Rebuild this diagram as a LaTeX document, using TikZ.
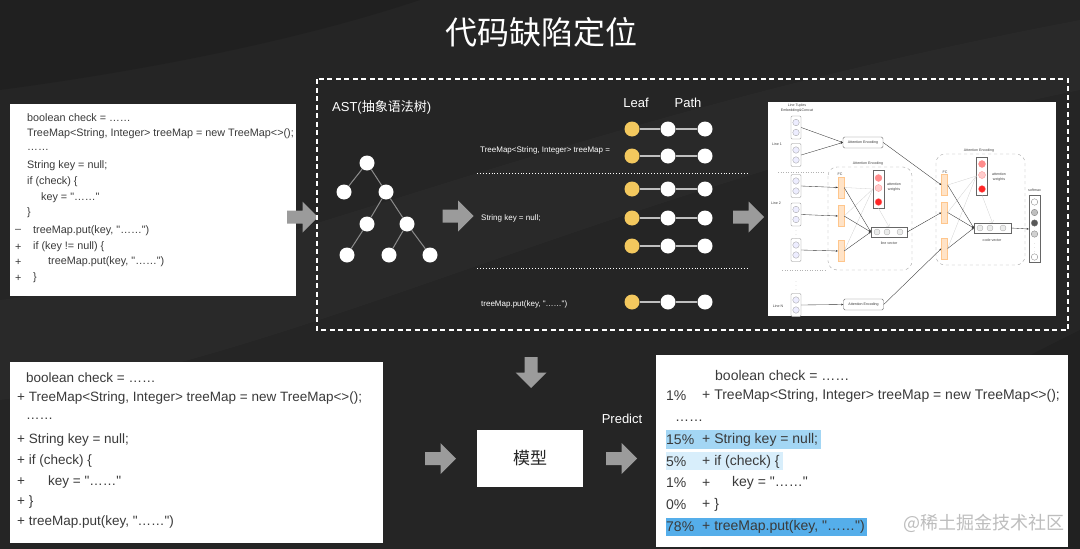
\documentclass[tikz,border=0pt]{standalone}
\usepackage{fontspec}
\setmainfont{Liberation Sans}
\newfontfamily\cjk{Noto Sans CJK SC}
\usetikzlibrary{calc,arrows.meta}
\definecolor{bg}{HTML}{252525}
\definecolor{arrowgray}{HTML}{9B9B9B}
\definecolor{codegray}{HTML}{3A3A3A}
\definecolor{leafyellow}{HTML}{F3C85E}
\definecolor{hlA}{HTML}{A3D6F4}
\definecolor{hlB}{HTML}{D8EEFB}
\definecolor{hlC}{HTML}{55AEEA}
\newcommand{\dq}{\textquotedbl}
\begin{document}
\begin{tikzpicture}[x=1pt,y=-1pt,
  whitebox/.style={fill=white, inner sep=0, anchor=north west},
  codeS/.style={anchor=west, text=codegray, inner sep=0, font=\fontsize{10.8}{12}\selectfont},
  codeL/.style={anchor=west, text=codegray, inner sep=0, font=\fontsize{13.5}{15}\selectfont},
  codeR/.style={anchor=west, text=codegray, inner sep=0, font=\fontsize{14}{16}\selectfont},
  smalltxt/.style={anchor=west, text=white, inner sep=0, font=\fontsize{8}{9}\selectfont},
  hdr/.style={text=white, inner sep=0, font=\fontsize{13}{15}\selectfont},
  tnode/.style={circle, fill=white, minimum size=15pt, inner sep=0},
  tedge/.style={draw=black!45, line width=1pt},
  pleaf/.style={circle, fill=leafyellow, minimum size=15pt, inner sep=0},
  ppath/.style={circle, fill=white, minimum size=15pt, inner sep=0},
  pedge/.style={draw=black!25, line width=1.3pt},
  sep/.style={white, dotted, line width=0.9pt},
  nnlabel/.style={font=\fontsize{3.6}{4.2}\selectfont, text=black!75, inner sep=0, align=center},
  embbox/.style={draw=black!45, line width=0.4pt, rounded corners=1.2pt, fill=white, minimum width=10pt, minimum height=23pt, inner sep=0},
  embc/.style={circle, draw=black!40, line width=0.3pt, fill=blue!7, minimum size=6.5pt, inner sep=0},
  aebox/.style={draw=black!55, line width=0.4pt, rounded corners=1.5pt, fill=white, minimum width=40pt, minimum height=11pt, inner sep=0, font=\fontsize{3.6}{4}\selectfont, text=black!80},
  region/.style={draw=black!35, dashed, line width=0.4pt, rounded corners=9pt},
  fcbar/.style={fill=orange!22, draw=orange!45, line width=0.3pt, minimum width=6pt, minimum height=21pt, inner sep=0},
  vecbox/.style={draw=black!60, line width=0.4pt, fill=white, minimum width=36pt, minimum height=10pt, inner sep=0},
  vecc/.style={circle, draw=black!35, line width=0.3pt, fill=green!6!black!8, minimum size=6pt, inner sep=0},
  wcol/.style={draw=black!60, line width=0.4pt, fill=white, minimum width=11pt, minimum height=38pt, inner sep=0},
  wc/.style={circle, minimum size=7pt, inner sep=0, draw=red!45, line width=0.3pt},
  smc/.style={circle, minimum size=6.5pt, inner sep=0, draw=black!55, line width=0.3pt},
  nnarr/.style={-{Stealth[length=2.2pt,width=1.8pt]}, line width=0.35pt, black!80},
  faint/.style={black!18, line width=0.3pt},
  blockarrow/.pic={\fill[arrowgray] (-15.5,-6.5) -- (0,-6.5) -- (0,-15.5) -- (15.5,0) -- (0,15.5) -- (0,6.5) -- (-15.5,6.5) -- cycle;}
]
\useasboundingbox (0,0) rectangle (1080,549);
\fill[bg] (0,0) rectangle (1080,549);
% subtle background streaks
\fill[white,opacity=0.02] (0,300) .. controls (250,270) and (550,120) .. (1080,20) -- (1080,90) .. controls (600,190) and (300,360) .. (0,400) -- cycle;
\fill[black,opacity=0.12] (0,0) -- (420,0) .. controls (300,40) and (150,70) .. (0,90) -- cycle;
\fill[black,opacity=0.1] (1080,330) .. controls (900,420) and (800,480) .. (700,549) -- (1080,549) -- cycle;

% title
\node[text=white, inner sep=0, font=\cjk\fontsize{32}{36}\selectfont] (title) at (541,32) {代码缺陷定位};

% ---------- top-left code box ----------
\node[whitebox, minimum width=286pt, minimum height=192pt] (box1) at (10,104) {};
\node[codeS] (a1) at (27,118) {boolean check = ……};
\node[codeS] (a2) at (27,134) {TreeMap<String, Integer> treeMap = new TreeMap<>();};
\node[codeS] (a3) at (27,150) {……};
\node[codeS] (a4) at (27,166) {String key = null;};
\node[codeS] (a5) at (27,182) {if (check) \{};
\node[codeS] (a6) at (41,198) {key = \dq……\dq};
\node[codeS] (a7) at (27,213) {\}};
\node[codeS] (a8m) at (15,231) {–};
\node[codeS] (a8) at (33,231) {treeMap.put(key, \dq……\dq)};
\node[codeS] (a9m) at (15,247) {+};
\node[codeS] (a9) at (33,247) {if (key != null) \{};
\node[codeS] (a10m) at (15,262) {+};
\node[codeS] (a10) at (48,262) {treeMap.put(key, \dq……\dq)};
\node[codeS] (a11m) at (15,278) {+};
\node[codeS] (a11) at (33,278) {\}};

% arrows
\pic at (302.5,217) {blockarrow};
\pic at (458,216) {blockarrow};
\pic at (748.5,217) {blockarrow};
\pic[rotate=-90] at (531,372.5) {blockarrow};
\pic at (440.5,458.5) {blockarrow};
\pic at (621.5,458.5) {blockarrow};

% dashed frame
\draw[white, line width=1.5pt, dash pattern=on 5pt off 3.5pt] (317,79) rectangle (1068,330);

% AST
\node[hdr, anchor=west] (astlbl) at (332,107) {AST({\cjk 抽象语法树})};
\node[tnode] (r) at (367,163) {};
\node[tnode] (l1a) at (344,192) {};
\node[tnode] (l1b) at (386,192) {};
\node[tnode] (l2a) at (367,224) {};
\node[tnode] (l2b) at (407,224) {};
\node[tnode] (l3a) at (347,255) {};
\node[tnode] (l3b) at (389,255) {};
\node[tnode] (l3c) at (430,255) {};
\draw[tedge] (r) -- (l1a);
\draw[tedge] (r) -- (l1b);
\draw[tedge] (l1b) -- (l2a);
\draw[tedge] (l1b) -- (l2b);
\draw[tedge] (l2a) -- (l3a);
\draw[tedge] (l2b) -- (l3b);
\draw[tedge] (l2b) -- (l3c);

% leaf / path
\node[hdr] (leafh) at (636,103) {Leaf};
\node[hdr] (pathh) at (688,103) {Path};
\foreach \i/\y in {1/129,2/156,3/189,4/218,5/246,6/302}{
  \node[pleaf] (p\i a) at (632,\y) {};
  \node[ppath] (p\i b) at (668,\y) {};
  \node[ppath] (p\i c) at (705,\y) {};
  \draw[pedge] (p\i a) -- (p\i b);
  \draw[pedge] (p\i b) -- (p\i c);
}
\node[smalltxt] (s1) at (480,150) {TreeMap<String, Integer> treeMap =};
\node[smalltxt] (s2) at (481,218) {String key = null;};
\node[smalltxt] (s3) at (481,304) {treeMap.put(key, \dq……\dq)};
\coordinate (d1a) at (477,173); \coordinate (d1b) at (747,173);
\coordinate (d2a) at (477,268); \coordinate (d2b) at (747,268);
\draw[sep] (d1a) -- (d1b);
\draw[sep] (d2a) -- (d2b);

% ---------- neural network figure ----------
\node[whitebox, minimum width=288pt, minimum height=214pt] (nnimg) at (768,102) {};
\begin{scope}
\clip (768,102) rectangle (1056,316);
\node[nnlabel] (ltl) at (797,108) {Line Tuples\\Embedding\&Concat};
\node[nnlabel] (ln1) at (777,144) {Line 1};
\node[nnlabel] (ln2) at (776,203) {Line 2};
\node[nnlabel] (lnN) at (778,306) {Line N};
\node[nnlabel] (vd1) at (796,232) {$\vdots$};
\node[nnlabel] (vd2) at (796,283) {$\vdots$};
\foreach \n/\y in {e1/127.5,e2/155,e3/186,e4/214.5,e5/250,e6/305}{
  \node[embbox] (\n) at (796,\y) {};
  \node[embc] at ($(\n)+(0,-5)$) {};
  \node[embc] at ($(\n)+(0,5)$) {};
}
\draw[black!30, dotted, line width=0.5pt] (778,172) -- (825,172);
\draw[black!30, dotted, line width=0.5pt] (782,270) -- (825,270);
\node[aebox] (ae1) at (863,142.5) {Attention Encoding};
\node[aebox] (ae2) at (863.5,304.5) {Attention Encoding};
% region 1
\draw[region] (828,167) rectangle (912,270);
\node[nnlabel] (rl1) at (868,164) {Attention Encoding};
\node[nnlabel] (fcl1) at (840,174) {FC};
\node[fcbar] (fc1) at (841,187.5) {};
\node[fcbar] (fc2) at (841,216) {};
\node[fcbar] (fc3) at (841,251) {};
\node[wcol] (aw1) at (878.5,189) {};
\node[wc, fill=red!45] at (878.5,178) {};
\node[wc, fill=red!20] at (878.5,188) {};
\node[wc, fill=red!85] at (878.5,202) {};
\node[nnlabel] (awl1) at (894,187) {attention\\weights};
\node[vecbox] (lv) at (889,232) {};
\foreach \x in {877,887,900}{\node[vecc] at (\x,232) {};}
\node[nnlabel] (lvl) at (889,243) {line vector};
% region 2
\draw[region] (936,154) rectangle (1025,265);
\node[nnlabel] (rl2) at (979,151) {Attention Encoding};
\node[nnlabel] (fcl2) at (945,172) {FC};
\node[fcbar] (fc4) at (944.5,185) {};
\node[fcbar] (fc5) at (944.5,212.5) {};
\node[fcbar] (fc6) at (944.5,248.5) {};
\node[wcol] (aw2) at (982,176) {};
\node[wc, fill=red!45] at (982,164) {};
\node[wc, fill=red!20] at (982,175) {};
\node[wc, fill=red!85] at (982,189) {};
\node[nnlabel] (awl2) at (999,177) {attention\\weights};
\node[vecbox, minimum width=37pt] (cv) at (992.5,228) {};
\foreach \x in {980,990,1003}{\node[vecc] at (\x,228) {};}
\node[nnlabel] (cvl) at (992,240) {code vector};
% softmax
\node[nnlabel] (sml) at (1034.5,190) {softmax};
\node[draw=black!60, line width=0.4pt, fill=white, minimum width=11pt, minimum height=67pt, inner sep=0] (sm) at (1034.5,229) {};
\node[smc, fill=white] at (1034.5,202) {};
\node[smc, fill=black!25] at (1034.5,212.5) {};
\node[smc, fill=black!65] at (1034.5,223) {};
\node[smc, fill=black!18] at (1034.5,234) {};
\node[nnlabel] at (1034.5,245) {$\vdots$};
\node[smc, fill=white] at (1034.5,257) {};
% connections
\foreach \f in {fc1,fc2,fc3}{\draw[faint] (\f.east) -- (aw1.west);}
\foreach \f in {fc4,fc5,fc6}{\draw[faint] (\f.east) -- (aw2.west);}
\draw[faint,->] (aw1.south) -- (lv.north);
\draw[faint,->] (aw2.south) -- (cv.north);
\draw[nnarr] (e1.east) -- (ae1.west);
\draw[nnarr] (e2.east) -- (ae1.west);
\draw[nnarr] (e3.east) -- (fc1.west);
\draw[nnarr] (e4.east) -- (fc2.west);
\draw[nnarr] (e5.east) -- (fc3.west);
\draw[nnarr] (e6.east) -- (ae2.west);
\foreach \f in {fc1,fc2,fc3}{\draw[nnarr] (\f.east) -- (lv.west);}
\foreach \f in {fc4,fc5,fc6}{\draw[nnarr] (\f.east) -- (cv.west);}
\draw[nnarr] (ae1.east) -- (fc4.west);
\draw[nnarr] (lv.east) -- (fc5.west);
\draw[nnarr] (ae2.east) -- (fc6.west);
\draw[nnarr] (cv.east) -- (sm.west);
\end{scope}

% ---------- bottom-left code box ----------
\node[whitebox, minimum width=373pt, minimum height=181pt] (box2) at (10,362) {};
\node[codeL] (b1) at (26,378) {boolean check = ……};
\node[codeL] (b2) at (17,398) {+ TreeMap<String, Integer> treeMap = new TreeMap<>();};
\node[codeL] (b3) at (26,419) {……};
\node[codeL] (b4) at (17,440) {+ String key = null;};
\node[codeL] (b5) at (17,461) {+ if (check) \{};
\node[codeL] (b6m) at (17,482) {+};
\node[codeL] (b6) at (48,482) {key = \dq……\dq};
\node[codeL] (b7) at (17,502) {+ \}};
\node[codeL] (b8) at (17,522) {+ treeMap.put(key, \dq……\dq)};

% ---------- model ----------
\node[fill=white, minimum width=106pt, minimum height=57pt, inner sep=0, font=\cjk\fontsize{17}{20}\selectfont, text=black!85] (model) at (530,458.5) {模型};
\node[hdr] (pred) at (622,419) {Predict};

% ---------- bottom-right result box ----------
\node[whitebox, minimum width=412pt, minimum height=192pt] (box3) at (656,355) {};
\fill[hlA] (666,430) rectangle (821,449);
\fill[hlB] (666,452) rectangle (783,470);
\fill[hlC] (666,518) rectangle (867,536);
\node[codeR] (c1) at (715,375) {boolean check = ……};
\node[codeR] (c2p) at (666,396) {1\%};
\node[codeR] (c2) at (702,396) {+ TreeMap<String, Integer> treeMap = new TreeMap<>();};
\node[codeR] (c3) at (675,421) {……};
\node[codeR] (c4p) at (666,440) {15\%};
\node[codeR] (c4) at (702,440) {+ String key = null;};
\node[codeR] (c5p) at (666,462) {5\%};
\node[codeR] (c5) at (702,462) {+ if (check) \{};
\node[codeR] (c6p) at (666,483) {1\%};
\node[codeR] (c6m) at (702,483) {+};
\node[codeR] (c6) at (732,483) {key = \dq……\dq};
\node[codeR] (c7p) at (666,505) {0\%};
\node[codeR] (c7) at (702,505) {+ \}};
\node[codeR] (c8p) at (666,527) {78\%};
\node[codeR] (c8) at (702,527) {+ treeMap.put(key, \dq……\dq)};

% watermark
\node[anchor=west, inner sep=0, text=black!30, opacity=0.85, font=\cjk\fontsize{18}{20}\selectfont] (wm) at (903,523) {@稀土掘金技术社区};
\end{tikzpicture}
\end{document}
